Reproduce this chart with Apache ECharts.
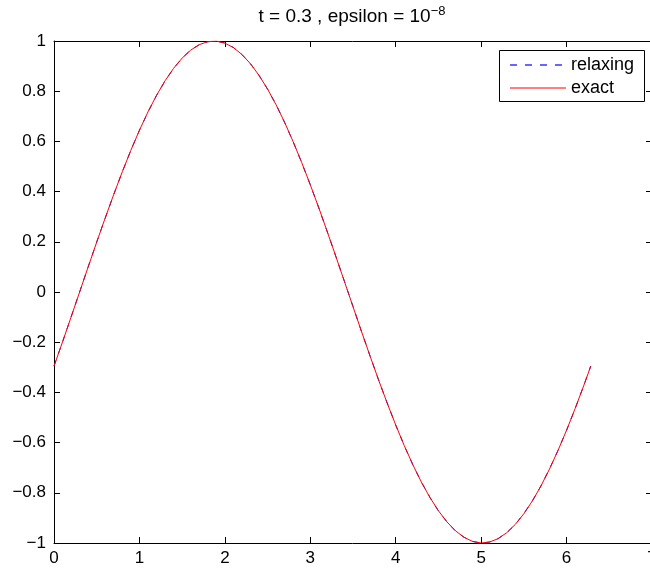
<!DOCTYPE html>
<html><head><meta charset="utf-8">
<script src="https://cdn.jsdelivr.net/npm/echarts@6/dist/echarts.min.js"></script>
<style>html,body{margin:0;padding:0;background:#fff}#c{width:650px;height:570px}</style>
</head><body><div id="c"></div>
<script>
const xValues = [0,0.1,0.2,0.3,0.4,0.5,0.6,0.7,0.8,0.9,1.0,1.1,1.2,1.3,1.4,1.5,1.6,1.7,1.8,1.9,2.0,2.1,2.2,2.3,2.4,2.5,2.6,2.7,2.8,2.9,3.0,3.1,3.2,3.3,3.4,3.5,3.6,3.7,3.8,3.9,4.0,4.1,4.2,4.3,4.4,4.5,4.6,4.7,4.8,4.9,5.0,5.1,5.2,5.3,5.4,5.5,5.6,5.7,5.8,5.9,6.0,6.1,6.2,6.2832];
const exactY = [-0.2955,-0.1987,-0.0998,0,0.0998,0.1987,0.2955,0.3894,0.4794,0.5646,0.6442,0.7174,0.7833,0.8415,0.8912,0.9320,0.9636,0.9854,0.9975,0.9996,0.9917,0.9738,0.9463,0.9093,0.8632,0.8085,0.7457,0.6755,0.5985,0.5155,0.4274,0.3350,0.2392,0.1411,0.0416,-0.0584,-0.1577,-0.2555,-0.3508,-0.4425,-0.5298,-0.6119,-0.6878,-0.7568,-0.8183,-0.8716,-0.9162,-0.9516,-0.9775,-0.9937,-0.9999,-0.9962,-0.9825,-0.9589,-0.9258,-0.8835,-0.8323,-0.7728,-0.7055,-0.6313,-0.5507,-0.4646,-0.3739,-0.2955];
const relaxingY = [-0.295,-0.199,-0.100,0,0.100,0.199,0.295,0.389,0.479,0.565,0.644,0.717,0.783,0.841,0.891,0.932,0.964,0.985,0.997,1.000,0.992,0.974,0.946,0.909,0.863,0.808,0.746,0.675,0.598,0.515,0.427,0.335,0.239,0.141,0.042,-0.058,-0.158,-0.255,-0.351,-0.442,-0.530,-0.612,-0.688,-0.757,-0.818,-0.872,-0.916,-0.952,-0.977,-0.994,-1.000,-0.996,-0.982,-0.959,-0.926,-0.883,-0.832,-0.773,-0.705,-0.631,-0.551,-0.465,-0.374,-0.295];
const seriesNames = ['relaxing','exact'];
const seriesColors = ['#0000ff','#ff0000'];
const titleMain = 't = 0.3 , epsilon = 10';
const titleSup = '\u22128';

const FONT = "'Liberation Sans', Arial, Helvetica, sans-serif";
const FS = 17;
const chart = echarts.init(document.getElementById('c'), null, {renderer:'canvas'});
const fmt = v => String(Math.round(v*10)/10).replace('-', '\u2212');
const axisLine = {show:true, onZero:false, lineStyle:{color:'#000', width:1}};
const tick = {show:true, inside:true, length:6, lineStyle:{color:'#000', width:1}};
const lbl = {color:'#000', fontSize:FS, fontFamily:FONT};

// legend drawn as graphic (box + sample lines + names)
const dashStarts = [510, 525, 540, 555];
const legendGraphic = [
  {type:'rect', left:499, top:50, shape:{width:145, height:51}, style:{fill:'#fff', stroke:'#000', lineWidth:1}, z:100},
  ...dashStarts.map(s => ({type:'line', shape:{x1:s, y1:65, x2:s+7, y2:65}, style:{stroke:seriesColors[0], lineWidth:1.2}, z:101})),
  {type:'text', x:571, y:65, style:{text:seriesNames[0], fill:'#000', font:'18px '+FONT, verticalAlign:'middle'}, z:101},
  {type:'line', shape:{x1:510, y1:88, x2:566, y2:88}, style:{stroke:seriesColors[1], lineWidth:1}, z:101},
  {type:'text', x:571, y:88, style:{text:seriesNames[1], fill:'#000', font:'18px '+FONT, verticalAlign:'middle'}, z:101}
];

chart.setOption({
  animation:false,
  backgroundColor:'#fff',
  title:{
    text:'{a|'+titleMain+'}{b|'+titleSup+'}',
    left:352, top:5, textAlign:'center', padding:0,
    textStyle:{fontWeight:'normal', rich:{
      a:{fontSize:19, fontFamily:FONT, color:'#000', fontWeight:'normal', lineHeight:24},
      b:{fontSize:13, fontFamily:FONT, color:'#000', fontWeight:'normal', lineHeight:14, verticalAlign:'top'}
    }}
  },
  grid:{left:54, right:-2, top:41, bottom:27, containLabel:false, outerBoundsMode:'none'},
  xAxis:[
    {type:'value', position:'bottom', min:0, max:7, interval:1, axisLine:axisLine, axisTick:tick,
     splitLine:{show:false}, axisLabel:Object.assign({margin:7, showMaxLabel:true}, lbl)},
    {type:'value', position:'top', min:0, max:7, interval:1, axisLine:axisLine, axisTick:tick,
     splitLine:{show:false}, axisLabel:{show:false}}
  ],
  yAxis:[
    {type:'value', position:'left', min:-1, max:1, interval:0.2, axisLine:axisLine, axisTick:tick,
     splitLine:{show:false}, axisLabel:Object.assign({margin:8, formatter:fmt}, lbl)},
    {type:'value', position:'right', min:-1, max:1, interval:0.2, axisLine:axisLine, axisTick:tick,
     splitLine:{show:false}, axisLabel:{show:false}}
  ],
  graphic:legendGraphic,
  series:[
    {name:seriesNames[0], type:'line', data:xValues.map((x,i)=>[x, relaxingY[i]]),
     symbol:'none', showSymbol:false, lineStyle:{color:seriesColors[0], width:1, type:[6,7]}, itemStyle:{color:seriesColors[0]}},
    {name:seriesNames[1], type:'line', data:xValues.map((x,i)=>[x, exactY[i]]),
     symbol:'none', showSymbol:false, lineStyle:{color:seriesColors[1], width:1, type:'solid'}, itemStyle:{color:seriesColors[1]}}
  ]
});
</script></body></html>
